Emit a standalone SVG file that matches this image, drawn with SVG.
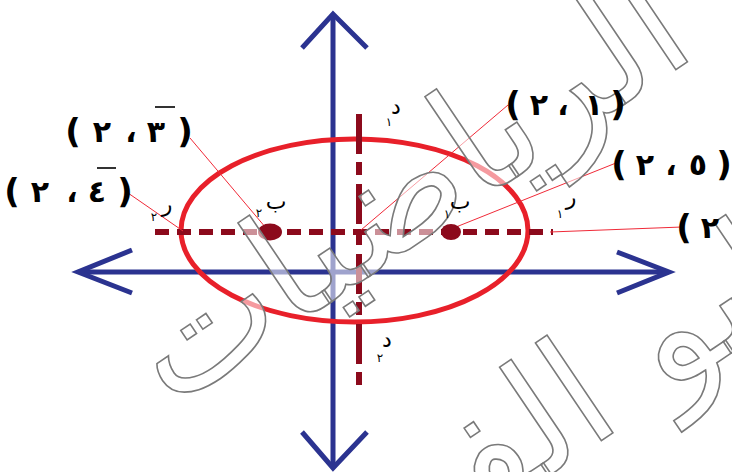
<svg xmlns="http://www.w3.org/2000/svg" width="732" height="472" viewBox="0 0 732 472">
<style>
.axis{stroke:#2b3390;stroke-width:5;fill:none;stroke-linecap:butt}
.head{stroke:#2b3390;stroke-width:5;fill:none;stroke-linejoin:miter}
.dash{stroke:#8c0a1c;stroke-width:6;fill:none;stroke-dasharray:14 8}
.leader{stroke:#f02a38;stroke-width:1;fill:none}
.coord{font-family:"DejaVu Sans",sans-serif;font-size:30px;font-weight:bold;fill:#000;text-anchor:middle}
.paren{font-family:"DejaVu Sans",sans-serif;font-size:34px;font-weight:bold;fill:#000;text-anchor:middle}
.bar{stroke:#000;stroke-width:1.6}
.sym{font-family:"DejaVu Sans",sans-serif;font-size:22px;fill:#000;text-anchor:middle}
.sub{font-family:"DejaVu Sans",sans-serif;font-size:12px;fill:#000;text-anchor:middle}
.wm{font-family:"DejaVu Sans",sans-serif;font-size:155px;fill:#fff;fill-opacity:0.55;stroke:#7a7a7a;stroke-width:1.6;text-anchor:middle}
</style>
<rect width="732" height="472" fill="#fff"/>
<g id="axes">
<line class="axis" x1="80" y1="272" x2="667" y2="272"/>
<line class="axis" x1="333" y1="16" x2="333" y2="468"/>
<polyline class="head" points="132,250 78,272 132,293"/>
<polyline class="head" points="617,252 669,272 617,293"/>
<polyline class="head" points="302,48 333,14 367,48"/>
<polyline class="head" points="302,432 333,468 367,432"/>
</g>
<g id="ellipse">
<ellipse cx="354.5" cy="230.5" rx="173.5" ry="91.5" fill="none" stroke="#e8202a" stroke-width="5"/>
</g>
<g id="connectors">
<line class="dash" x1="155" y1="232" x2="553" y2="232"/>
<line class="dash" x1="359" y1="114" x2="359" y2="385" style="stroke-dasharray:40 8 13 9"/>
<line class="leader" x1="190" y1="138" x2="266" y2="228"/>
<line class="leader" x1="128" y1="193" x2="183" y2="231"/>
<line class="leader" x1="508" y1="105" x2="361" y2="230"/>
<line class="leader" x1="616" y1="163" x2="456" y2="227"/>
<line class="leader" x1="682" y1="227" x2="550" y2="232"/>
</g>
<g id="point-b2">
<ellipse cx="270" cy="232" rx="12" ry="8.5" fill="#8c0a1c"/>
</g>
<g id="point-b1">
<ellipse cx="451" cy="232" rx="10" ry="8" fill="#8c0a1c"/>
</g>
<g id="watermark">
<text class="wm" transform="translate(435,232) rotate(-34)">الرياضيات</text>
<text class="wm" transform="translate(540,482) rotate(-34)">ابو الفضل</text>
</g>
<g id="label-b2">
<text class="sym" x="276" y="209">ب</text>
<text class="sub" x="259" y="217">٢</text>
</g>
<g id="label-b1">
<text class="sym" x="460" y="209">ب</text>
<text class="sub" x="447" y="218">١</text>
</g>
<g id="label-r2">
<text class="sym" x="167" y="212">ر</text>
<text class="sub" x="154" y="221">٢</text>
</g>
<g id="label-r1">
<text class="sym" x="571" y="205">ر</text>
<text class="sub" x="560" y="218">١</text>
</g>
<g id="label-d1">
<text class="sym" x="396" y="114">د</text>
<text class="sub" x="389" y="126">١</text>
</g>
<g id="label-d2">
<text class="sym" x="387" y="347">د</text>
<text class="sub" x="380" y="362">٢</text>
</g>
<g id="coord-1">
<text class="coord" y="142"><tspan x="102">٢</tspan><tspan x="131">،</tspan><tspan x="156">٣</tspan></text>
<text class="paren" y="143"><tspan x="73">(</tspan><tspan x="185">)</tspan></text>
<line class="bar" x1="155" y1="107" x2="175" y2="107"/>
</g>
<g id="coord-2">
<text class="coord" y="202"><tspan x="40">٢</tspan><tspan x="72">،</tspan><tspan x="97">٤</tspan></text>
<text class="paren" y="203"><tspan x="12">(</tspan><tspan x="125">)</tspan></text>
<line class="bar" x1="97" y1="168" x2="116" y2="168"/>
</g>
<g id="coord-3">
<text class="coord" y="115"><tspan x="539">٢</tspan><tspan x="563">،</tspan><tspan x="594">١</tspan></text>
<text class="paren" y="116"><tspan x="513">(</tspan><tspan x="618">)</tspan></text>
</g>
<g id="coord-4">
<text class="coord" y="175"><tspan x="645">٢</tspan><tspan x="671">،</tspan><tspan x="698">٥</tspan></text>
<text class="paren" y="176"><tspan x="619">(</tspan><tspan x="724">)</tspan></text>
</g>
<g id="coord-5">
<text class="coord" y="238"><tspan x="710">٢</tspan></text>
<text class="paren" y="239"><tspan x="684">(</tspan></text>
</g>
</svg>
